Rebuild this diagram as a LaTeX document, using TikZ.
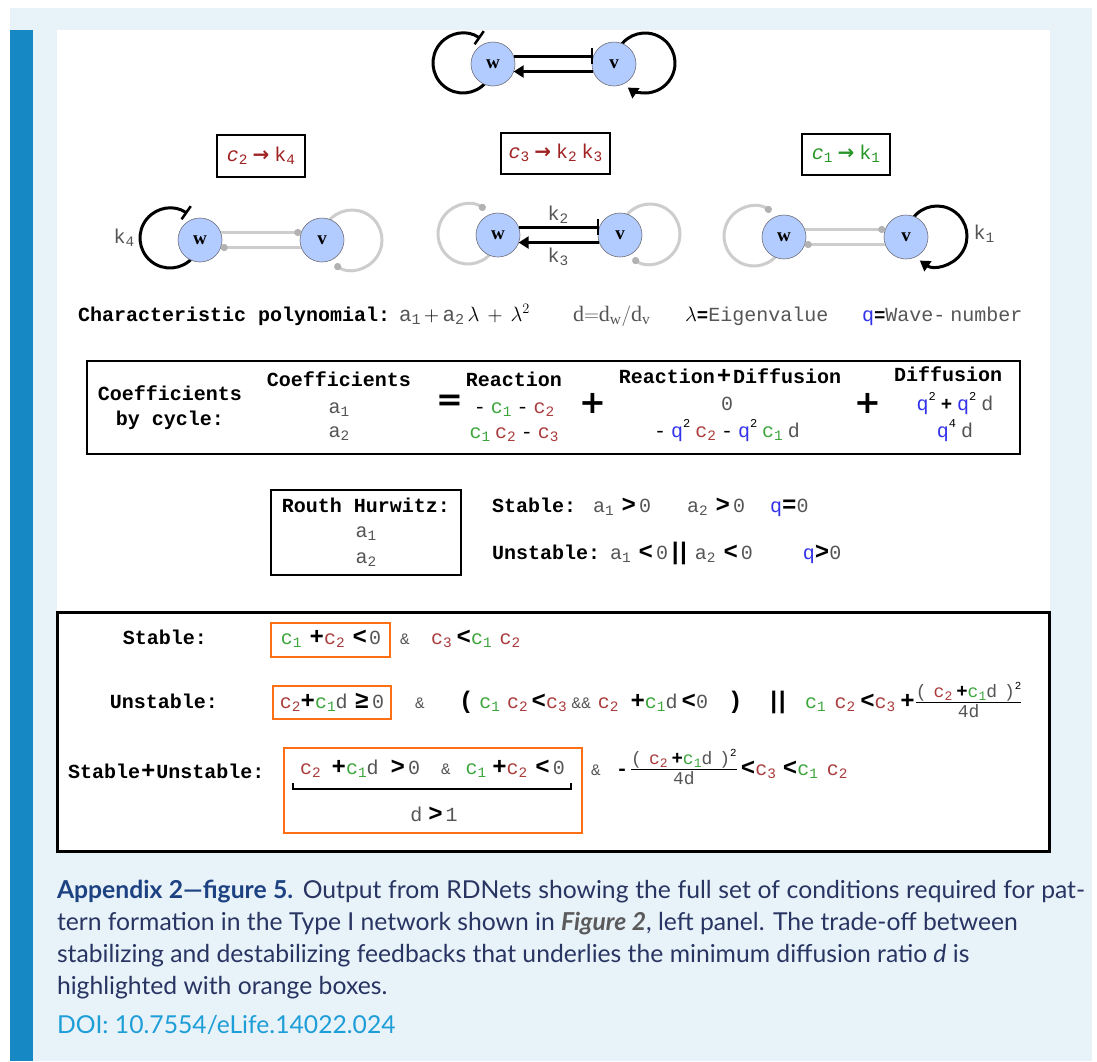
\documentclass[tikz,border=0pt]{standalone}
\usepackage{fontspec}
\usepackage{amsmath}
\usepackage{graphicx}
\setmainfont{Liberation Serif}
\setmonofont{Liberation Mono}
\newfontfamily\capfont{Lato}
\newfontfamily\djvfont{DejaVu Sans}
\usetikzlibrary{arrows.meta,calc}

\definecolor{bgblue}{RGB}{232,242,249}
\definecolor{barblue}{RGB}{22,137,197}
\definecolor{nodefill}{RGB}{179,204,255}
\definecolor{nodeline}{RGB}{110,110,120}
\definecolor{edgegray}{RGB}{205,205,205}
\definecolor{dotgray}{RGB}{178,178,178}
\definecolor{cG}{RGB}{60,165,60}
\definecolor{cR}{RGB}{170,60,60}
\definecolor{qB}{RGB}{50,50,235}
\definecolor{tG}{RGB}{85,85,85}
\definecolor{orng}{RGB}{255,112,20}
\definecolor{caphead}{RGB}{28,66,130}
\definecolor{doiblue}{RGB}{30,158,215}
\definecolor{captext}{RGB}{40,52,98}
\definecolor{figgray}{RGB}{90,90,90}
\definecolor{boxred}{RGB}{160,35,35}
\definecolor{boxgreen}{RGB}{40,150,40}

\newcommand\mfs{\fontsize{20}{22}\selectfont}
\newcommand\sfs{\fontsize{16}{16}\selectfont}
\newcommand\ffs{\fontsize{18}{18}\selectfont}
\newcommand\hs{\hspace{0.25em}}
\newcommand\gp[1]{\hspace{#1pt}}
\newcommand\mydn[1]{\raisebox{-0.3ex}{\scalebox{0.72}{#1}}}
\newcommand\myup[1]{\raisebox{0.9ex}{\scalebox{0.6}{#1}}}
\newcommand\cone{\textcolor{cG}{c\mydn{1}}}
\newcommand\ctwo{\textcolor{cR}{c\mydn{2}}}
\newcommand\cthree{\textcolor{cR}{c\mydn{3}}}
\newcommand\qv{\textcolor{qB}{q}}
\newcommand\aone{\textcolor{tG}{a\mydn{1}}}
\newcommand\atwo{\textcolor{tG}{a\mydn{2}}}
\newcommand\dv{\textcolor{tG}{d}}
\newcommand\gy[1]{\textcolor{tG}{#1}}
\newcommand\opb[1]{{\fontsize{24}{24}\selectfont\bfseries #1}}
\newcommand\opf[1]{{\fontsize{19}{19}\selectfont\bfseries #1}}
\newcommand\dbar{\opb{|}\hspace{-6pt}\opb{|}}
\newcommand\ampg{\textcolor{tG}{\sfs\&}}
\newcommand\frc{\ensuremath{\genfrac{}{}{0.8pt}{}{\hbox{\ffs\gy{(}\gp{7}\ctwo\gp{4}\opf{+}\cone\dv\gp{7}\gy{)}\myup{2}}}{\hbox{\ffs\gy{4d}}}}}

\begin{document}
\begin{tikzpicture}[x=1pt,y=1pt,
  every node/.style={inner sep=0pt,outer sep=0pt},
  tx/.style={font=\mfs\ttfamily},
  lb/.style={font=\mfs\ttfamily\bfseries},
  nd/.style={circle,draw=nodeline,line width=0.6pt,fill=nodefill,minimum size=44pt,font=\fontsize{19}{19}\selectfont\bfseries},
  blk/.style={line width=3pt,black},
  gry/.style={line width=3pt,edgegray},
  inh/.style={-{Bar[width=16pt,line width=2.5pt]}},
  act/.style={-{Triangle[width=12pt,length=10pt]}},
  dottip/.style={-{Circle[length=7pt,width=7pt,color=dotgray]}},
  lbox/.style={draw,line width=2pt,font=\mfs\ttfamily},
  obox/.style={draw=orng,line width=2pt},
  captxt/.style={anchor=base west,font=\capfont\fontsize{24.7}{32}\selectfont,text=captext}]
\useasboundingbox (0,0) rectangle (1097,-1061);
\fill[white] (0,0) rectangle (1097,-1061);
\fill[bgblue] (10,-8) rectangle (1092,-1061);
\fill[barblue] (10,-30) rectangle (33,-1061);
\fill[white] (57,-30) rectangle (1050,-852);

% ---------- top network
\coordinate (lw0) at (463,-63);
\coordinate (lv0) at (645,-63);
\draw[blk,inh] ($(lw0)+(-40:30)$) arc[start angle=-40,end angle=-305,radius=30];
\draw[blk,act] ($(lv0)+(150:30)$) arc[start angle=150,end angle=-125,radius=30];
\node[nd] (W0) at (493,-64) {w};
\node[nd] (V0) at (614,-64) {v};
\draw[blk,inh] (W0.20) -- (V0.160);
\draw[blk,act] (V0.200) -- (W0.-20);

% ---------- cycle boxes
\node[lbox,minimum width=88pt,minimum height=42pt] (b1) at (261,-156)
  {\textcolor{boxred}{\textit{c}\mydn{2}\hs{\djvfont\bfseries →}\hs k\mydn{4}}};
\node[lbox,minimum width=109pt,minimum height=41pt] (b2) at (555.5,-153)
  {\textcolor{boxred}{\textit{c}\mydn{3}\hs{\djvfont\bfseries →}\hs k\mydn{2}\hs k\mydn{3}}};
\node[lbox,minimum width=88pt,minimum height=41pt] (b3) at (846,-154)
  {\textcolor{boxgreen}{\textit{c}\mydn{1}\hs{\djvfont\bfseries →}\hs k\mydn{1}}};

% ---------- left sub-network
\coordinate (lw1) at (170,-238);
\coordinate (lv1) at (352,-240);
\draw[blk,inh] ($(lw1)+(-40:30)$) arc[start angle=-40,end angle=-305,radius=30];
\draw[gry,dottip] ($(lv1)+(145:30)$) arc[start angle=145,end angle=-125,radius=30];
\node[nd] (W1) at (200,-240) {w};
\node[nd] (V1) at (322,-240) {v};
\draw[gry,dottip] (W1.20) -- (V1.160);
\draw[gry,dottip] (V1.200) -- (W1.-20);
\node[tx,text=tG] (k4) at (124,-238) {k\mydn{4}};

% ---------- middle sub-network
\coordinate (lw2) at (468,-234);
\coordinate (lv2) at (650,-234);
\draw[gry,dottip] ($(lw2)+(-40:30)$) arc[start angle=-40,end angle=-305,radius=30];
\draw[gry,dottip] ($(lv2)+(145:30)$) arc[start angle=145,end angle=-125,radius=30];
\node[nd] (W2) at (498,-235) {w};
\node[nd] (V2) at (620,-235) {v};
\draw[blk,inh] (W2.20) -- (V2.160);
\draw[blk,act] (V2.200) -- (W2.-20);
\node[tx,text=tG] (k2) at (558,-215) {k\mydn{2}};
\node[tx,text=tG] (k3) at (558,-257) {k\mydn{3}};

% ---------- right sub-network
\coordinate (lw3) at (754,-236);
\coordinate (lv3) at (937,-236);
\draw[gry,dottip] ($(lw3)+(-40:30)$) arc[start angle=-40,end angle=-305,radius=30];
\draw[blk,act] ($(lv3)+(145:30)$) arc[start angle=145,end angle=-125,radius=30];
\node[nd] (W3) at (784,-237) {w};
\node[nd] (V3) at (906,-237) {v};
\draw[gry,dottip] (W3.20) -- (V3.160);
\draw[gry,dottip] (V3.200) -- (W3.-20);
\node[tx,text=tG] (k1) at (984,-234) {k\mydn{1}};

% ---------- characteristic polynomial row
\node[lb,anchor=base west] (cp) at (78,-321) {Characteristic polynomial:};
\node[tx,anchor=base west] (poly) at (399,-321) {\fontsize{21}{22}\selectfont\aone$\,+\,$\atwo$\,\lambda\,+\,\lambda^{2}$};
\node[tx,anchor=base west] (dr) at (573,-321) {\fontsize{22}{22}\selectfont\gy{$\mathrm{d{=}d_w/d_v}$}};
\node[tx,anchor=base west] (ev) at (685,-321) {$\lambda$\opf{=}\gy{Eigenvalue}};
\node[tx,anchor=base west] (wn) at (862,-321) {\qv\opf{=}\gy{Wave-\hs number}};

% ---------- coefficients box
\draw[line width=1.6pt] (87,-361) rectangle (1020,-454);
\node[lb,anchor=base] (cb1) at (170,-400) {Coefficients};
\node[lb,anchor=base] (cb2) at (170,-425) {by cycle:};
\node[lb,anchor=base] (co) at (339,-386) {Coefficients};
\node[tx,anchor=base] (co1) at (339,-413) {\aone};
\node[tx,anchor=base] (co2) at (339,-437) {\atwo};
\node[font=\djvfont\bfseries\fontsize{32}{32}\selectfont] (eq) at (450,-403) {=};
\node[lb,anchor=base] (re) at (514,-386) {Reaction};
\node[tx,anchor=base] (re1) at (514,-413) {-\hs\cone\hs-\hs\ctwo};
\node[tx,anchor=base] (re2) at (514,-438) {\cone\hs\ctwo\hs-\hs\cthree};
\node[font=\djvfont\bfseries\fontsize{32}{32}\selectfont] (pl1) at (593,-403) {+};
\node[lb,anchor=base] (rd) at (730,-383) {Reaction\gp{2}\opb{+}\gp{2}Diffusion};
\node[tx,anchor=base] (rd1) at (727,-410) {\gy{0}};
\node[tx,anchor=base] (rd2) at (727,-437) {-\hs\qv\myup{2}\hs\ctwo\hs-\hs\qv\myup{2}\hs\cone\hs\dv};
\node[font=\djvfont\bfseries\fontsize{32}{32}\selectfont] (pl2) at (868,-403) {+};
\node[lb,anchor=base] (di) at (948,-381) {Diffusion};
\node[tx,anchor=base] (di1) at (955,-410) {\qv\myup{2}\hs\opf{+}\hs\qv\myup{2}\hs\dv};
\node[tx,anchor=base] (di2) at (955,-437) {\qv\myup{4}\hs\dv};

% ---------- Routh Hurwitz
\draw[line width=1.5pt] (271,-490) rectangle (461,-575);
\node[lb,anchor=base] (rh) at (366,-512) {Routh Hurwitz:};
\node[tx,anchor=base] (rh1) at (366,-537) {\aone};
\node[tx,anchor=base] (rh2) at (366,-563) {\atwo};
\node[tx,anchor=base west] (rs) at (492,-512)
  {\textbf{Stable:}\gp{17}\aone\gp{8}\opb{>}\gp{3}\gy{0}\gp{36}\atwo\gp{8}\opb{>}\gp{3}\gy{0}\gp{25}\qv\opb{=}\gy{0}};
\node[tx,anchor=base west] (ru) at (492,-559)
  {\textbf{Unstable:}\gp{10}\aone\gp{8}\opb{<}\gp{3}\gy{0}\dbar\gp{4}\atwo\gp{8}\opb{<}\gp{3}\gy{0}\gp{50}\qv\opb{>}\gy{0}};

% ---------- conditions box
\draw[line width=3pt] (57,-612) rectangle (1049,-851);
% row 1
\node[lb,anchor=base] (s1) at (165,-644) {Stable:};
\draw[obox] (271,-623) rectangle (390,-657);
\node[tx,anchor=base] (s1a) at (331,-644) {\cone\gp{8}\opb{+}\ctwo\gp{8}\opb{<}\gp{2}\gy{0}};
\node[tx,anchor=base] (s1b) at (405,-644) {\ampg};
\node[tx,anchor=base west] (s1c) at (431,-644) {\cthree\gp{5}\opb{<}\cone\gp{8}\ctwo};
% row 2
\node[lb,anchor=base] (u1) at (164,-708) {Unstable:};
\draw[obox] (273,-686) rectangle (391,-719);
\node[tx,anchor=base] (u1a) at (332,-708) {\ctwo\opb{+}\cone\dv\gp{7}\opb{≥}\gp{3}\gy{0}};
\node[tx,anchor=base] (u1b) at (420,-708) {\ampg};
\node[tx,anchor=base west] (u1c) at (459,-708)
  {\opb{(}\gp{6}\cone\gp{7}\ctwo\gp{4}\opb{<}\cthree\gp{5}\gy{\sfs\&\&}\gp{7}\ctwo\gp{12}\opb{+}\cone\dv\gp{4}\opb{<}\gy{0}\gp{20}\opb{)}};
\node[tx,anchor=base] (u1d) at (778,-708) {\dbar};
\node[tx,anchor=base west] (u1e) at (805,-708) {\cone\gp{9}\ctwo\gp{5}\opb{<}\cthree\gp{5}\opb{+}\frc};
% row 3
\node[lb,anchor=base west] (m1) at (68,-778) {Stable\gp{1}\opb{+}\gp{1}Unstable:};
\draw[obox] (284,-748) rectangle (582,-833);
\node[tx,anchor=base west] (m1a) at (300,-774)
  {\ctwo\gp{11}\opb{+}\cone\dv\gp{12}\opb{>}\gp{3}\gy{0}\gp{21}\ampg\gp{15}\cone\gp{6}\opb{+}\ctwo\gp{8}\opb{<}\gp{3}\gy{0}};
\draw[line width=1.8pt] (293,-783) -- (293,-789) -- (571,-789) -- (571,-783);
\node[tx,anchor=base] (m1b) at (434,-821) {\dv\gp{6}\opb{>}\gp{3}\gy{1}};
\node[tx,anchor=base] (m1c) at (596,-775) {\ampg};
\node[tx,anchor=base west] (m1d) at (616,-775) {\textbf{-}\gp{2}\frc\gp{3}\opb{<}\cthree\gp{7}\opb{<}\cone\gp{9}\ctwo};

% ---------- caption
\node[captxt] (c1) at (57,-898) {\makebox[1028pt][s]{{\bfseries\color{caphead}Appendix 2—figure 5.} Output from RDNets showing the full set of conditions required for pat-}};
\node[captxt] (c2) at (57,-930) {tern formation in the Type I network shown in {\bfseries\itshape\color{figgray}Figure 2}, left panel. The trade-off between};
\node[captxt] (c3) at (57,-962) {stabilizing and destabilizing feedbacks that underlies the minimum diffusion ratio \textit{d} is};
\node[captxt] (c4) at (57,-994) {highlighted with orange boxes.};
\node[captxt,text=doiblue] (c5) at (57,-1033) {DOI: 10.7554/eLife.14022.024};
\end{tikzpicture}
\end{document}
